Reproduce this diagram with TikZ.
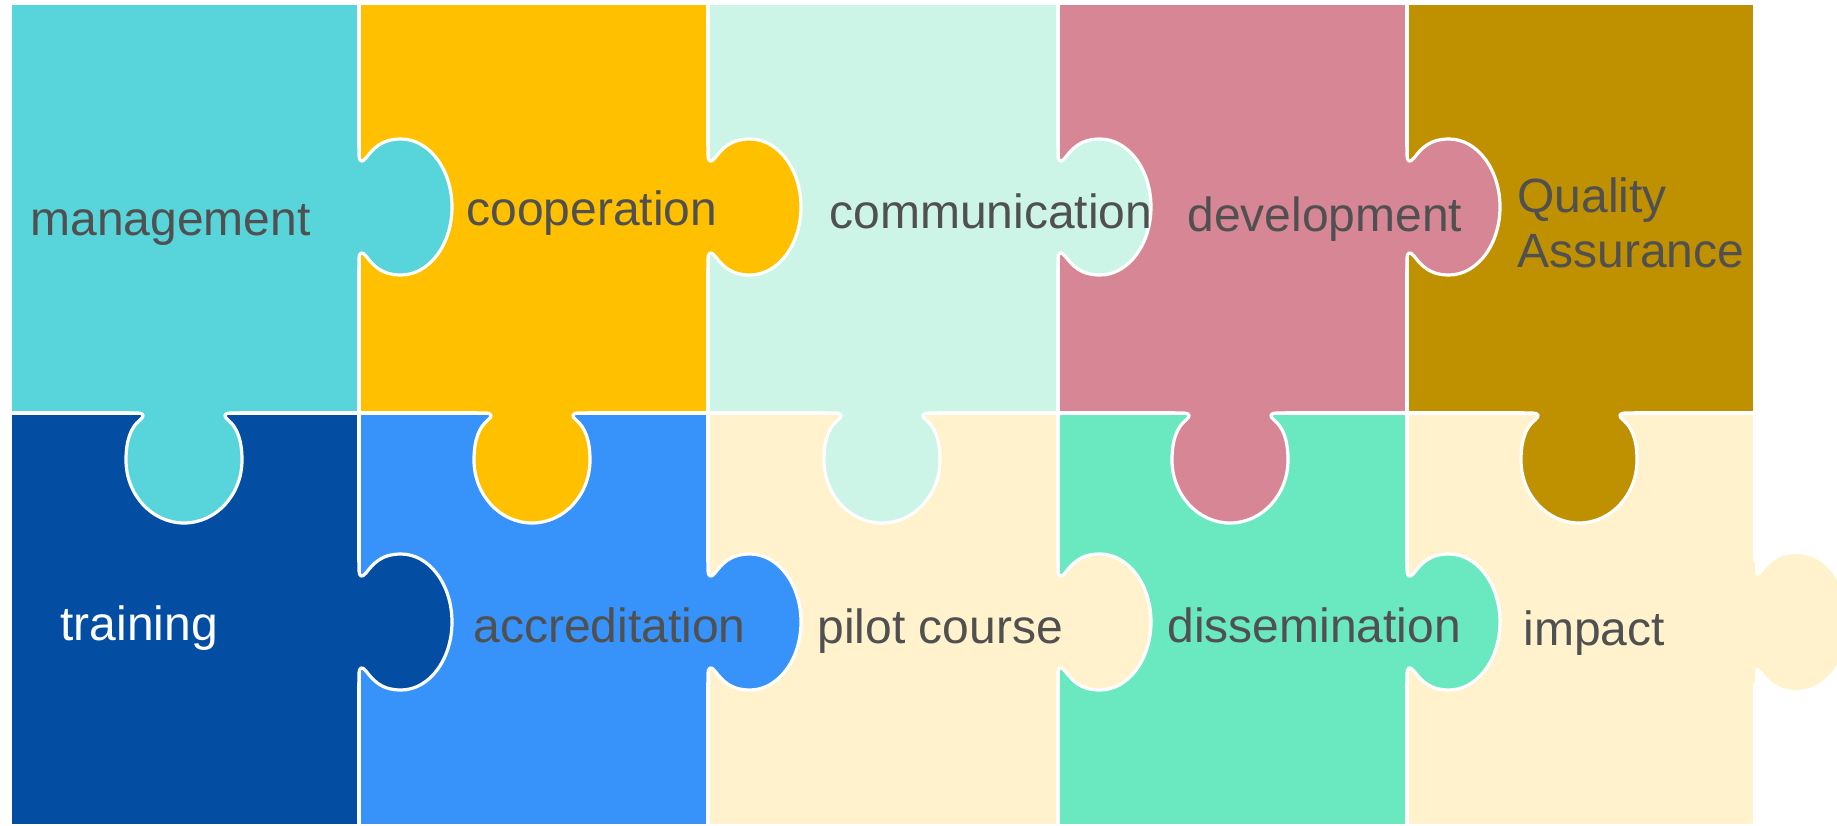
\documentclass[tikz,border=0pt]{standalone}
\usepackage{fontspec}
\setmainfont{Liberation Sans}
\definecolor{pcyan}{HTML}{58D4DB}
\definecolor{pyellow}{HTML}{FFC000}
\definecolor{pmint}{HTML}{CCF5E8}
\definecolor{ppink}{HTML}{D78695}
\definecolor{pgold}{HTML}{BF9000}
\definecolor{pnavy}{HTML}{034EA2}
\definecolor{pblue}{HTML}{3793F9}
\definecolor{pcream}{HTML}{FFF2CC}
\definecolor{pgreen}{HTML}{6AE9C1}
\definecolor{txt}{HTML}{505050}
% horizontal tab (pointing right), local (u,v) = (x,y)
\newcommand{\htabc}[4]{(0,{-#1-14}) -- (0,{-#1-6}) .. controls (0,{-#1+1}) and (3,{-#1+2}) .. (7,{-#1-3})
 .. controls (14,{-#1-12}) and ({#3-20},{-#2}) .. (#3,{-#2})
 .. controls ({#3+0.552*(#4-#3)},{-#2}) and (#4,{-0.552*#2}) .. (#4,0)
 .. controls (#4,{0.552*#2}) and ({#3+0.552*(#4-#3)},#2) .. (#3,#2)
 .. controls ({#3-20},#2) and (14,{#1+12}) .. (7,{#1+3})
 .. controls (3,{#1-2}) and (0,{#1-1}) .. (0,{#1+6}) -- (0,{#1+14})}
% vertical tab (pointing down), local (v,u) = (x,y)
\newcommand{\vtabc}[4]{({-#1-14},0) -- ({-#1-6},0) .. controls ({-#1+1},0) and ({-#1+2},3) .. ({-#1-3},7)
 .. controls ({-#1-12},14) and ({-#2},{#3-20}) .. ({-#2},#3)
 .. controls ({-#2},{#3+0.552*(#4-#3)}) and ({-0.552*#2},#4) .. (0,#4)
 .. controls ({0.552*#2},#4) and (#2,{#3+0.552*(#4-#3)}) .. (#2,#3)
 .. controls (#2,{#3-20}) and ({#1+12},14) .. ({#1+3},7)
 .. controls ({#1-2},3) and ({#1-1},0) .. ({#1+6},0) -- ({#1+14},0)}
\newcommand{\hpiece}[3]{% x y colour
 \fill[#3,shift={(#1,#2)}] \htabc{46}{68}{42}{93} -- (-5,60) -- (-5,-60) -- cycle;
 \draw[edge,shift={(#1,#2)}] \htabc{46}{68}{42}{93};}
\newcommand{\vpiece}[3]{%
 \fill[#3,shift={(#1,#2)}] \vtabc{41}{58}{47}{110} -- (55,-5) -- (-55,-5) -- cycle;
 \draw[edge,shift={(#1,#2)}] \vtabc{41}{58}{47}{110};}
\begin{document}
\begin{tikzpicture}[x=0.5pt,y=-0.5pt,
  edge/.style={draw=white,line width=1.6pt,line join=round},
  piece/.style={draw=white,line width=1.6pt},
  lbl/.style={anchor=base west,inner sep=0pt,text=txt,font=\fontsize{24}{29}\selectfont}]
\useasboundingbox (0,0) rectangle (1837,825);
\clip (0,0) rectangle (1837,825);
% pieces
\path[piece,fill=pcyan]   (10,3) rectangle (359,413);
\path[piece,fill=pyellow] (359,3) rectangle (708,413);
\path[piece,fill=pmint]   (708,3) rectangle (1058,413);
\path[piece,fill=ppink]   (1058,3) rectangle (1407,413);
\path[piece,fill=pgold]   (1407,3) rectangle (1755,413);
\path[piece,fill=pnavy]   (10,413) rectangle (359,826);
\path[piece,fill=pblue]   (359,413) rectangle (708,826);
\path[piece,fill=pcream]  (708,413) rectangle (1058,826);
\path[piece,fill=pgreen]  (1058,413) rectangle (1407,826);
\path[piece,fill=pcream]  (1407,413) rectangle (1755,826);
% tabs of the top row
\hpiece{359}{207}{pcyan}
\hpiece{708}{207}{pyellow}
\hpiece{1058}{207}{pmint}
\hpiece{1407}{207}{ppink}
\vpiece{184}{413}{pcyan}
\vpiece{532}{413}{pyellow}
\vpiece{882}{413}{pmint}
\vpiece{1230}{413}{ppink}
\vpiece{1579}{413}{pgold}
% tabs of the bottom row
\hpiece{359}{622}{pnavy}
\hpiece{708}{622}{pblue}
\hpiece{1058}{622}{pcream}
\hpiece{1407}{622}{pgreen}
\fill[pcream,shift={(1755,622)}] \htabc{46}{68}{42}{93} -- (-5,60) -- (-5,-60) -- cycle;
% labels
\node[lbl] (t1) at (30,235) {management};
\node[lbl] (t2) at (466,225) {cooperation};
\node[lbl] (t3) at (829,228) {communication};
\node[lbl] (t4) at (1187,231) {development};
\node[lbl] (t5a) at (1517,212) {Quality};
\node[lbl] (t5b) at (1517,267) {Assurance};
\node[lbl,text=white] (t6) at (60,640) {training};
\node[lbl] (t7) at (473,642) {accreditation};
\node[lbl] (t8) at (817,643) {pilot course};
\node[lbl] (t9) at (1167,642) {dissemination};
\node[lbl] (t10) at (1523,645) {impact};
\end{tikzpicture}
\end{document}
